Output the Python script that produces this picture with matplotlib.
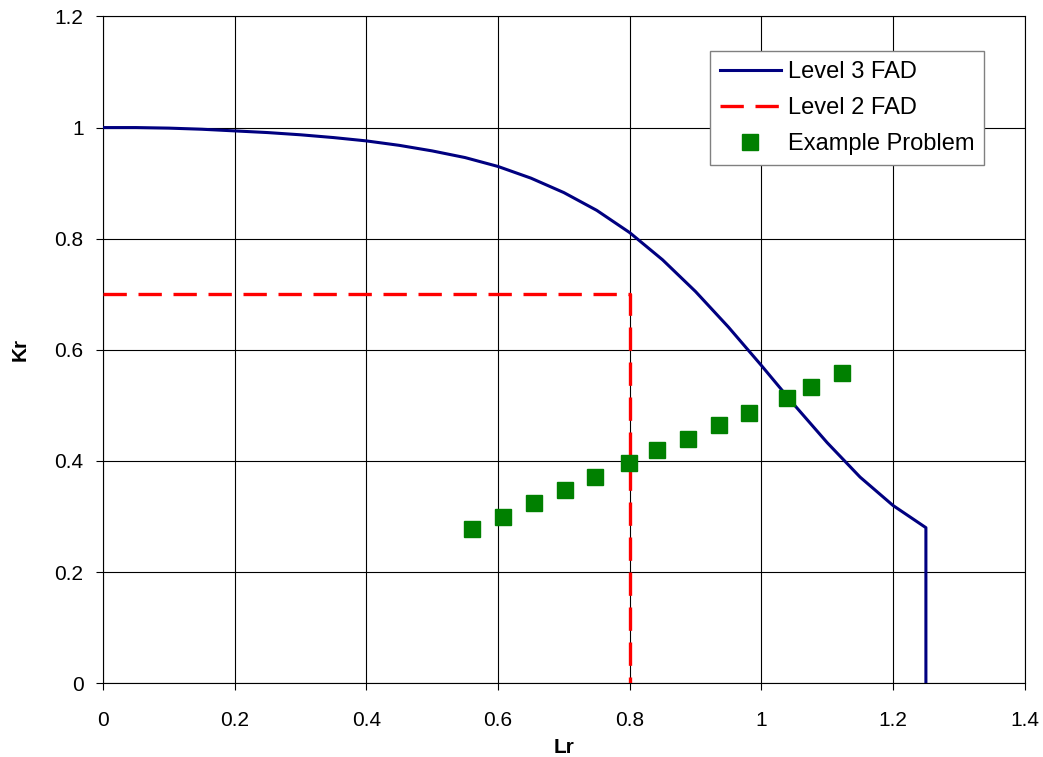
import matplotlib
matplotlib.use("Agg")
import matplotlib.pyplot as plt

plt.rcParams['font.family'] = ['Liberation Sans', 'DejaVu Sans']

# Level 3 FAD curve
lr_fad3 = [0.0, 0.05, 0.10, 0.15, 0.20, 0.25, 0.30, 0.35, 0.40, 0.45, 0.50,
           0.55, 0.60, 0.65, 0.70, 0.75, 0.80, 0.85, 0.90, 0.95, 1.00,
           1.05, 1.10, 1.15, 1.20, 1.25, 1.25]
kr_fad3 = [1.000, 1.000, 0.999, 0.997, 0.994, 0.991, 0.987, 0.982, 0.976, 0.968, 0.958,
           0.946, 0.930, 0.909, 0.883, 0.851, 0.811, 0.762, 0.705, 0.641, 0.572,
           0.501, 0.433, 0.371, 0.320, 0.280, 0.0]

# Level 2 FAD
lr_fad2 = [0.0, 0.8, 0.8]
kr_fad2 = [0.7, 0.7, 0.0]

# Example problem points
lr_ex = [0.561, 0.608, 0.655, 0.701, 0.747, 0.799, 0.842, 0.889, 0.935, 0.981,
         1.039, 1.076, 1.122]
kr_ex = [0.278, 0.300, 0.325, 0.347, 0.372, 0.397, 0.419, 0.440, 0.464, 0.486,
         0.514, 0.533, 0.558]

fig = plt.figure(figsize=(10.43, 7.57), dpi=100)
ax = fig.add_axes([0.0988, 0.0974, 0.8836, 0.8809])

ax.plot(lr_fad3, kr_fad3, color='#000080', lw=2.2, label='Level 3 FAD', zorder=3)
ax.plot(lr_fad2, kr_fad2, color='#FF0000', lw=2.4, dashes=(7, 3.5),
        label='Level 2 FAD', zorder=3)
ax.plot(lr_ex, kr_ex, ls='none', marker='s', ms=12, color='#008000',
        markeredgecolor='#008000', label='Example Problem', zorder=4)

ax.set_xlim(0, 1.4)
ax.set_ylim(0, 1.2)
ax.set_xticks([0, 0.2, 0.4, 0.6, 0.8, 1.0, 1.2, 1.4])
ax.set_xticklabels(['0', '0.2', '0.4', '0.6', '0.8', '1', '1.2', '1.4'])
ax.set_yticks([0, 0.2, 0.4, 0.6, 0.8, 1.0, 1.2])
ax.set_yticklabels(['0', '0.2', '0.4', '0.6', '0.8', '1', '1.2'])
ax.grid(True, color='black', lw=0.8)
ax.set_axisbelow(True)
ax.tick_params(direction='out', length=5, width=0.8, labelsize=15)
ax.tick_params(axis='y', pad=9)
ax.tick_params(axis='x', pad=15)
for s in ax.spines.values():
    s.set_linewidth(0.8)
    s.set_color('black')

ax.set_xlabel('Lr', fontsize=15, fontweight='bold', labelpad=6)
ax.set_ylabel('Kr', fontsize=15, fontweight='bold', labelpad=18)

leg = ax.legend(loc='upper left', bbox_to_anchor=(0.681, 0.932),
                bbox_transform=fig.transFigure, borderaxespad=0,
                fontsize=17, frameon=True, fancybox=False, edgecolor='#808080',
                framealpha=1, handlelength=2.6, labelspacing=0.6,
                handletextpad=0.3, borderpad=0.4)
leg.get_frame().set_linewidth(1.0)

fig.savefig('out.png', dpi=100)
